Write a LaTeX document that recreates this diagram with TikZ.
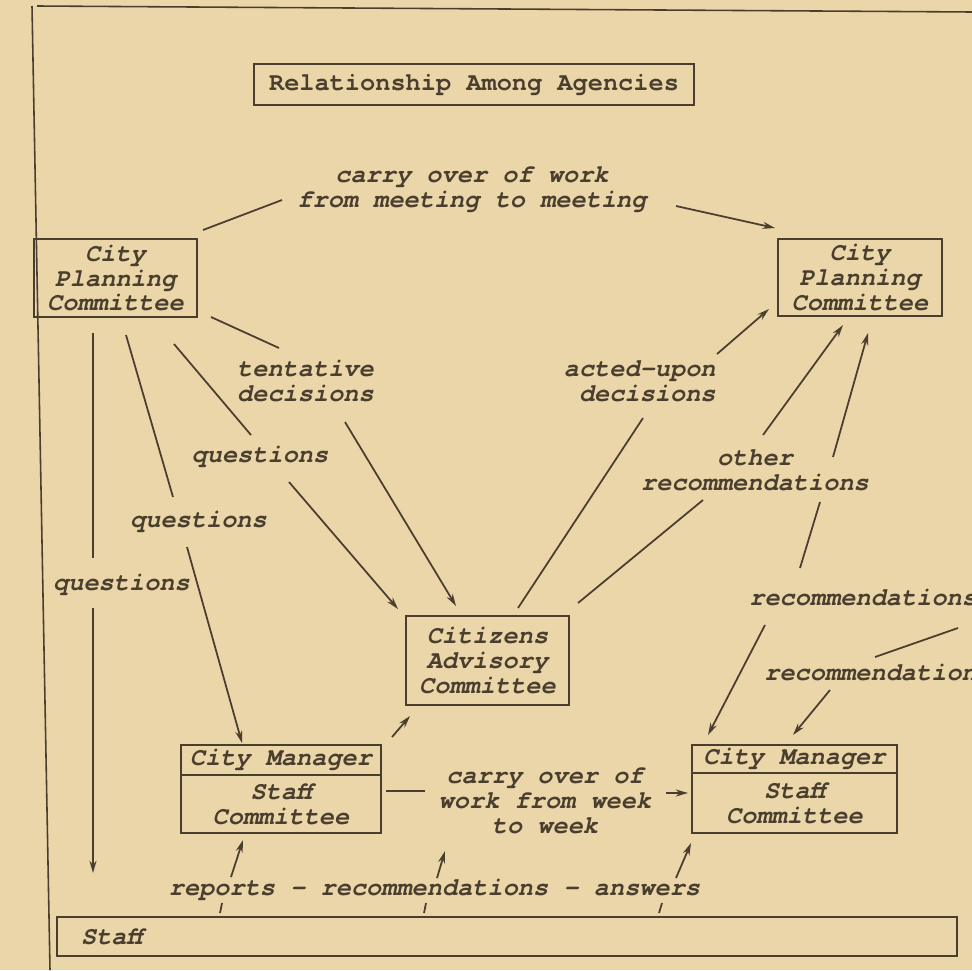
\documentclass[tikz,border=0pt]{standalone}
\usepackage{fontspec}
\setmainfont{TeX Gyre Cursor}
\usetikzlibrary{positioning,arrows.meta}
\definecolor{paper}{RGB}{234,214,169}
\definecolor{ink}{RGB}{74,62,46}

\begin{document}
\begin{tikzpicture}[x=0.02cm,y=-0.02cm,>={Stealth[length=7pt,width=4pt]},
  every node/.style={text=ink,font=\fontsize{14.4}{14.2}\selectfont\bfseries\itshape},
  box/.style={draw=ink,line width=1.5pt,inner sep=0pt,outer sep=0pt,align=center},
  lbl/.style={align=center,inner sep=0pt},
  link/.style={draw=ink,line width=1pt}]
\clip (0,0) rectangle (972,970);
\fill[paper] (0,0) rectangle (972,970);
% frame of the sheet
\draw[ink,line width=0.9pt] (37,6) -- (972,12);
\draw[ink,line width=0.9pt] (32,6) -- (50,970);

\node[box,minimum width=8.8cm,minimum height=0.82cm,font=\fontsize{14.4}{14.2}\selectfont\bfseries\upshape] (title) at (474,84.5) {Relationship Among Agencies};

% agencies
\node[box,minimum width=3.26cm,minimum height=1.56cm] (cpcL) at (115.5,278) {City\\Planning\\Committee};
\node[box,minimum width=3.28cm,minimum height=1.54cm] (cpcR) at (860,277.5) {City\\Planning\\Committee};
\node[box,minimum width=3.26cm,minimum height=1.78cm] (cab) at (487.5,660.5) {Citizens\\Advisory\\Committee};
\node[box,minimum width=4cm,minimum height=0.6cm] (cmsLhead) at (281,760) {City Manager};
\node[box,minimum width=4cm,minimum height=1.16cm,below=0pt of cmsLhead] (cmsL) {Staff\\Committee};
\node[box,minimum width=4.1cm,minimum height=0.56cm] (cmsRhead) at (794.5,759) {City Manager};
\node[box,minimum width=4.1cm,minimum height=1.2cm,below=0pt of cmsRhead] (cmsR) {Staff\\Committee};
\node[box,text width=17.04cm,inner xsep=0.48cm,align=left,minimum height=0.78cm] (staff) at (507,936.5) {Staff};

% labels
\node[lbl] (meet) at (472,190) {carry over of work\\from meeting to meeting};
\node[lbl] (tent) at (305.5,380.5) {tentative\\decisions};
\node[lbl] (q1) at (260,457) {questions};
\node[lbl] (q2) at (198.5,522) {questions};
\node[lbl] (q3) at (121.5,585) {questions};
\node[lbl,align=right,anchor=east] (acted) at (716,381) {acted-upon\\decisions};
\node[lbl] (other) at (755,470) {other\\recommendations};
\node[lbl,anchor=west] (rec1) at (749,597) {recommendations};
\node[lbl,anchor=west] (rec2) at (764,672) {recommendations};
\node[lbl] (week) at (545,800.5) {carry over of\\work from week\\to week};
\node[lbl] (rra) at (434.5,890) {reports - recommendations - answers};

% line ends
\foreach \n/\x/\y in {a1/203/230,a2/282/200,a3/676/206,a4/775/228,
    b1/93/333,b2/93/558,b3/93/608,b4/93/873,
    c1/126/335,c2/173/497,c3/187/547,c4/242/743,
    d1/174/344,d2/251/435,d3/289/482,d4/398/609,
    e1/211/317,e2/279/348,e3/345/422,e4/456/606,
    f1/717/354,f2/769/309,f3/643/418,f4/518/608,
    g1/763/435,g2/843/325,g3/703/500,g4/578/603,
    h1/833/457,h2/868/333,h3/820/502,h4/800/568,
    k1/765/625,k2/708/735,k3/958/628,k4/875/657,k5/830/690,k6/793/735,
    n1/392/737,n2/410/716,w1/386/791,w2/425/791,w3/666/793,w4/688/793,
    r1/231/877,r2/243/840,r3/437/878,r4/445/851,r5/676/878,r6/691/843,
    t1/222/903,t2/220/913,t3/426/903,t4/424/913,t5/662/903,t6/659/913}
  \coordinate (\n) at (\x,\y);

% connectors
\draw[link] (a1) -- (a2);
\draw[link,->] (a3) -- (a4);
\draw[link] (b1) -- (b2);
\draw[link,->] (b3) -- (b4);
\draw[link] (c1) -- (c2);
\draw[link,->] (c3) -- (c4);
\draw[link] (d1) -- (d2);
\draw[link,->] (d3) -- (d4);
\draw[link] (e1) -- (e2);
\draw[link,->] (e3) -- (e4);
\draw[link,->] (f1) -- (f2);
\draw[link] (f3) -- (f4);
\draw[link,->] (g1) -- (g2);
\draw[link] (g3) -- (g4);
\draw[link,->] (h1) -- (h2);
\draw[link] (h3) -- (h4);
\draw[link,->] (k1) -- (k2);
\draw[link] (k3) -- (k4);
\draw[link,->] (k5) -- (k6);
\draw[link,->] (n1) -- (n2);
\draw[link] (w1) -- (w2);
\draw[link,->] (w3) -- (w4);
\draw[link,->] (r1) -- (r2);
\draw[link,->] (r3) -- (r4);
\draw[link,->] (r5) -- (r6);
\draw[link] (t1) -- (t2);
\draw[link] (t3) -- (t4);
\draw[link] (t5) -- (t6);
\end{tikzpicture}
\end{document}
